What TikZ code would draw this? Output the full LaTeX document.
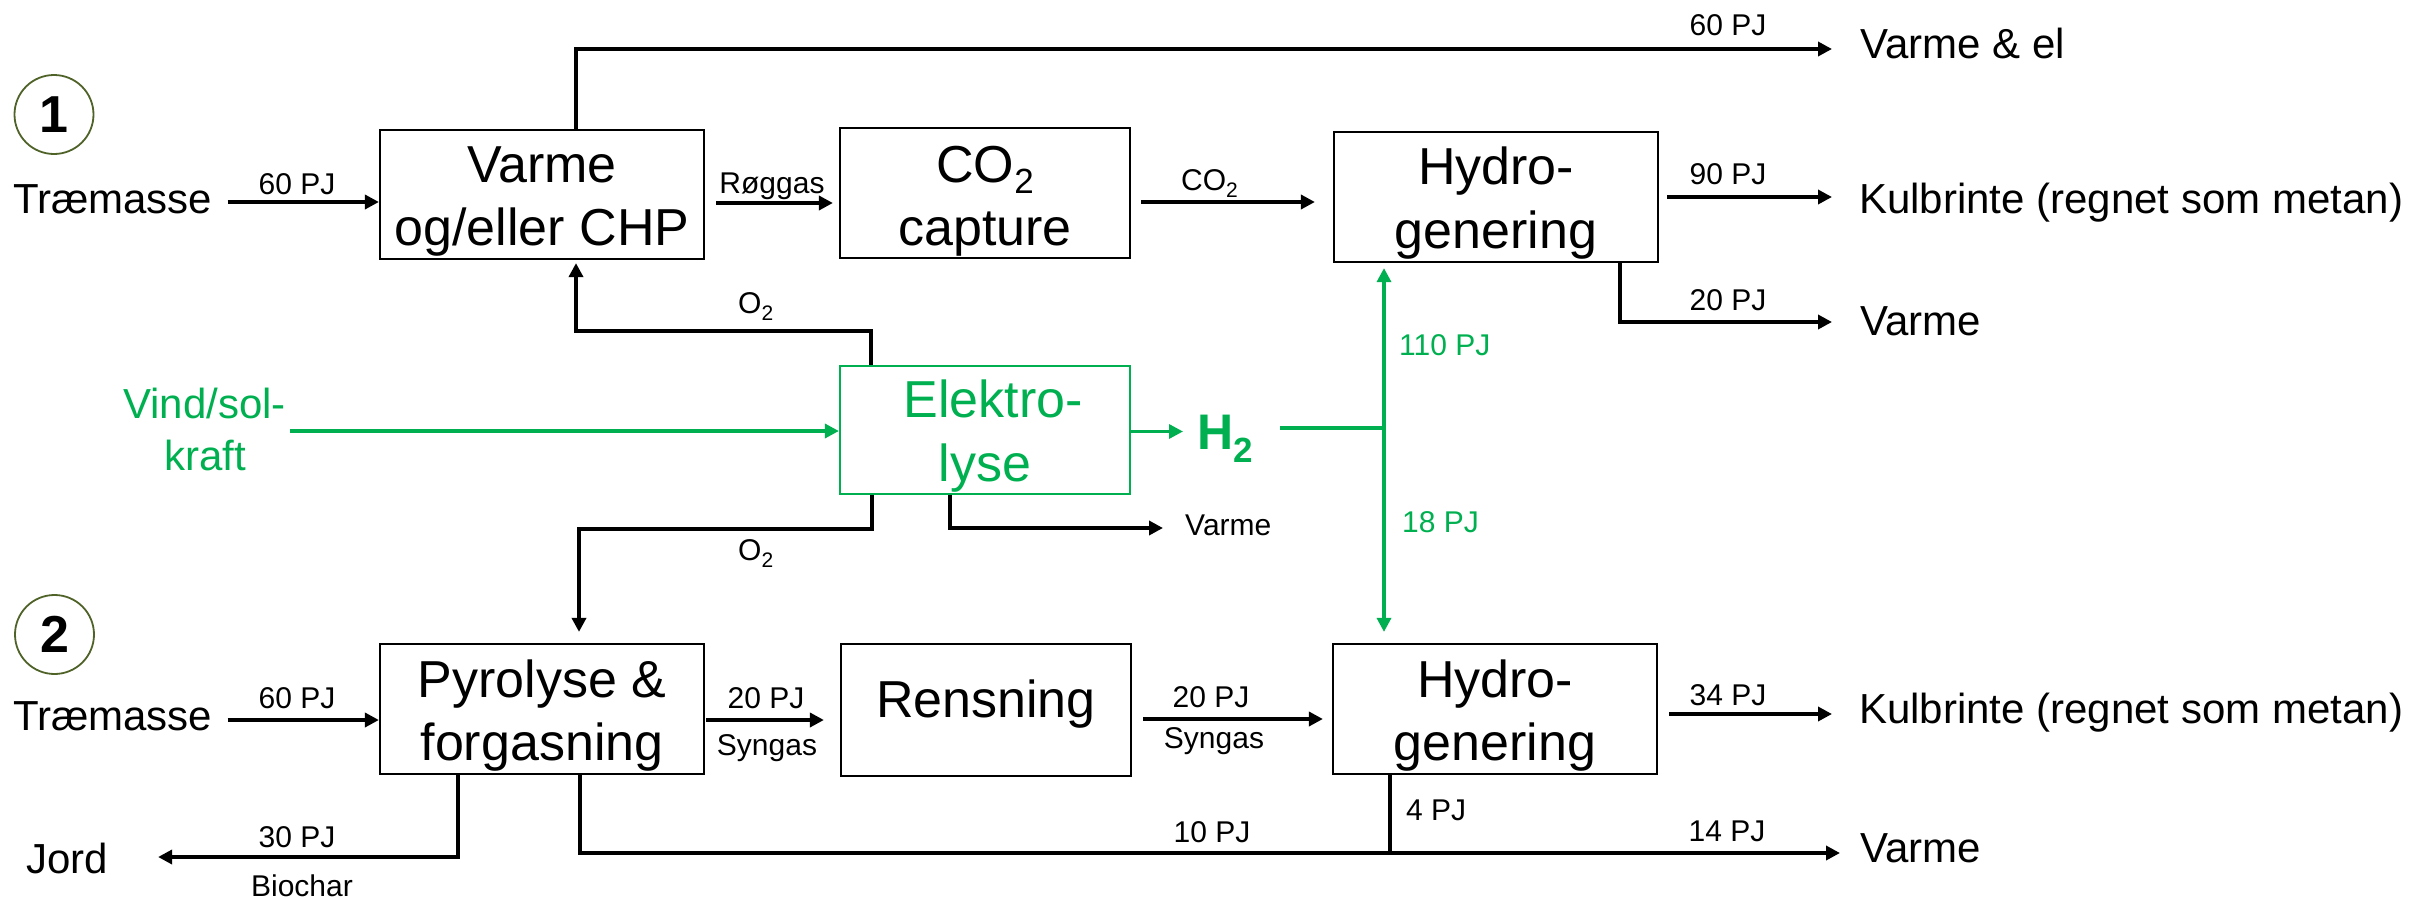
\documentclass[tikz,border=0pt]{standalone}
\usepackage{fontspec}
\setmainfont{Liberation Sans}
\usetikzlibrary{arrows.meta,calc}
\definecolor{gr}{RGB}{0,176,80}
\definecolor{olv}{RGB}{79,98,40}
\newcommand{\lsub}[3]{\raisebox{-#3pt}{\fontsize{#2}{#2}\selectfont #1}}
\begin{document}
\begin{tikzpicture}[x=1pt,y=-1pt,
  bx/.style n args={2}{draw,line width=2.2pt,inner sep=0pt,minimum width=#1,minimum height=#2},
  big/.style={font=\fontsize{52}{62}\selectfont,inner sep=0pt,anchor=base},
  mid/.style={font=\fontsize{42}{50}\selectfont,inner sep=0pt,anchor=base west},
  midc/.style={font=\fontsize{42}{50}\selectfont,inner sep=0pt,anchor=base},
  sml/.style={font=\fontsize{30}{36}\selectfont,inner sep=0pt,anchor=base},
  smlw/.style={font=\fontsize{30}{36}\selectfont,inner sep=0pt,anchor=base west},
  num/.style={circle,draw=olv,line width=1.8pt,minimum size=79pt,inner sep=0pt,font=\fontsize{52}{52}\selectfont\bfseries},
  arr/.style={line width=3.5pt,-{Triangle[length=14pt,width=14pt]}},
  ln/.style={line width=3.5pt},
  garr/.style={color=gr,line width=3.3pt,-{Triangle[length=14pt,width=14pt]}},
  gln/.style={color=gr,line width=3.3pt}]
\useasboundingbox (0,0) rectangle (2415,899);

% ---------- boxes ----------
\node[bx={324pt}{129pt}] (chp)  at (542,194.5) {};
\node[bx={290pt}{130pt}] (cap)  at (985,193) {};
\node[bx={324pt}{130pt}] (hyd1) at (1496,197) {};
\node[bx={290pt}{128pt},draw=gr] (ele) at (985,430) {};
\node[bx={324pt}{130pt}] (pyr)  at (542,709) {};
\node[bx={290pt}{132pt}] (ren)  at (986,710) {};
\node[bx={324pt}{130pt}] (hyd2) at (1495,709) {};

% ---------- box texts ----------
\node[big] (chpA) at (542,182) {Varme};
\node[big] (chpB) at (542,245) {og/eller CHP};
\node[big] (capA) at (985,182) {CO\lsub{2}{35}{11}};
\node[big] (capB) at (985,245) {capture};
\node[big] (hyA) at (1496,184) {Hydro-};
\node[big] (hyB) at (1496,248) {genering};
\node[big,text=gr] (elA) at (993,417) {Elektro-};
\node[big,text=gr] (elB) at (985,481) {lyse};
\node[big] (pyA) at (542,697) {Pyrolyse \&};
\node[big] (pyB) at (542,760) {forgasning};
\node[big] (reA) at (986,717) {Rensning};
\node[big] (hzA) at (1495,697) {Hydro-};
\node[big] (hzB) at (1495,760) {genering};

% ---------- numbers ----------
\node[num] (n1) at (54,114.5) {1};
\node[num] (n2) at (54.5,634.5) {2};

% ---------- outside texts ----------
\node[mid] (tra1) at (13,213) {Træmasse};
\node[mid] (tra2) at (13,730) {Træmasse};
\node[mid] (ve) at (1860,59) {Varme \& el};
\node[mid] (kul1) at (1859,213) {Kulbrinte (regnet som metan)};
\node[mid] (vm1) at (1860,335) {Varme};
\node[mid] (kul2) at (1859,723) {Kulbrinte (regnet som metan)};
\node[mid] (vm2) at (1860,862) {Varme};
\node[mid] (jord) at (26,873) {Jord};
\node[midc,text=gr] (vind1) at (204.5,418) {Vind/sol-};
\node[midc,text=gr] (vind2) at (205,470) {kraft};
\node[inner sep=0pt,anchor=base west,text=gr,font=\fontsize{50}{50}\selectfont\bfseries] (h2) at (1197,449) {H\lsub{2}{35}{13}};
\node[smlw] (ev) at (1185,535) {Varme};

% ---------- flow labels ----------
\node[sml] (l1) at (297,194) {60 PJ};
\node[sml] (l2) at (1728,36) {60 PJ};
\node[sml] (l3) at (772,193) {Røggas};
\node[smlw] (l4) at (1181,190) {CO\lsub{2}{21}{7}};
\node[sml] (l5) at (1728,184) {90 PJ};
\node[sml] (l6) at (1728,310) {20 PJ};
\node[smlw] (l7) at (738,313) {O\lsub{2}{21}{7}};
\node[smlw,text=gr] (l8) at (1399,355) {110 PJ};
\node[smlw,text=gr] (l9) at (1402,532) {18 PJ};
\node[smlw] (l10) at (738,560) {O\lsub{2}{21}{7}};
\node[sml] (l11) at (297,708) {60 PJ};
\node[sml] (l12) at (766,708) {20 PJ};
\node[sml] (l13) at (767,755) {Syngas};
\node[sml] (l14) at (1211,707) {20 PJ};
\node[sml] (l15) at (1214,748) {Syngas};
\node[sml] (l16) at (1728,705) {34 PJ};
\node[sml] (l17) at (297,847) {30 PJ};
\node[sml] (l18) at (302,896) {Biochar};
\node[sml] (l19) at (1212,842) {10 PJ};
\node[smlw] (l20) at (1406,820) {4 PJ};
\node[sml] (l21) at (1727,841) {14 PJ};

% ---------- helper coordinates ----------
\coordinate (yA) at (0,202);
\coordinate (yB) at (0,203);
\coordinate (yC) at (0,197);
\coordinate (yD) at (0,322);
\coordinate (yE) at (0,331);
\coordinate (yT) at (0,49);
\coordinate (yV) at (0,431);
\coordinate (yF) at (0,431.5);
\coordinate (yG) at (0,529);
\coordinate (yH) at (0,528);
\coordinate (yI) at (0,720);
\coordinate (yJ) at (0,719);
\coordinate (yK) at (0,714);
\coordinate (yL) at (0,857);
\coordinate (yM) at (0,853);
\coordinate (xA) at (576,0);
\coordinate (xB) at (1620,0);
\coordinate (xC) at (871,0);
\coordinate (xD) at (872,0);
\coordinate (xE) at (579,0);
\coordinate (xF) at (950,0);
\coordinate (xG) at (458,0);
\coordinate (xA2) at (580,0);
\coordinate (xH) at (1390,0);
\coordinate (j) at (1384,428);

% ---------- connectors, route 1 ----------
\draw[arr,shorten <=15pt] (tra1.east |- yA) -- (chp.west |- yA);
\draw[arr,shorten >=28pt] (chp.north -| xA) |- (ve.west |- yT);
\draw[arr,shorten <=11pt,shorten >=6pt] (chp.east |- yB) -- (cap.west |- yB);
\draw[arr,shorten <=10pt,shorten >=18pt] (cap.east |- yA) -- (hyd1.west |- yA);
\draw[arr,shorten <=8pt,shorten >=27pt] (hyd1.east |- yC) -- (kul1.west |- yC);
\draw[arr,shorten >=28pt] (hyd1.south -| xB) |- (vm1.west |- yD);
\draw[arr,shorten >=3pt] (ele.north -| xC) -- (xC |- yE) -| (chp.south -| xA);

% ---------- electrolysis ----------
\draw[garr,shorten <=4pt] (vind1.east |- yV) -- (ele.west |- yV);
\draw[garr,shorten >=14pt] (ele.east |- yF) -- (h2.west |- yF);
\draw[gln,shorten <=27pt] (h2.east |- j) -- (j);
\draw[garr,shorten >=5pt] (j) -- (hyd1.south -| j);
\draw[garr,shorten >=11pt] (j) -- (hyd2.north -| j);
\draw[arr,shorten >=11pt] (ele.south -| xD) -- (xD |- yG) -| (pyr.north -| xE);
\draw[arr,shorten >=22pt] (ele.south -| xF) |- (ev.west |- yH);

% ---------- connectors, route 2 ----------
\draw[arr,shorten <=15pt] (tra2.east |- yI) -- (pyr.west |- yI);
\draw[arr,shorten <=1pt,shorten >=16pt] (pyr.east |- yI) -- (ren.west |- yI);
\draw[arr,shorten <=11pt,shorten >=9pt] (ren.east |- yJ) -- (hyd2.west |- yJ);
\draw[arr,shorten <=11pt,shorten >=27pt] (hyd2.east |- yK) -- (kul2.west |- yK);
\draw[arr,shorten >=50pt] (pyr.south -| xG) |- (jord.east |- yL);
\draw[arr,shorten >=20pt] (pyr.south -| xA2) |- (vm2.west |- yM);
\draw[ln] (hyd2.south -| xH) -- (xH |- yM);
\end{tikzpicture}
\end{document}
